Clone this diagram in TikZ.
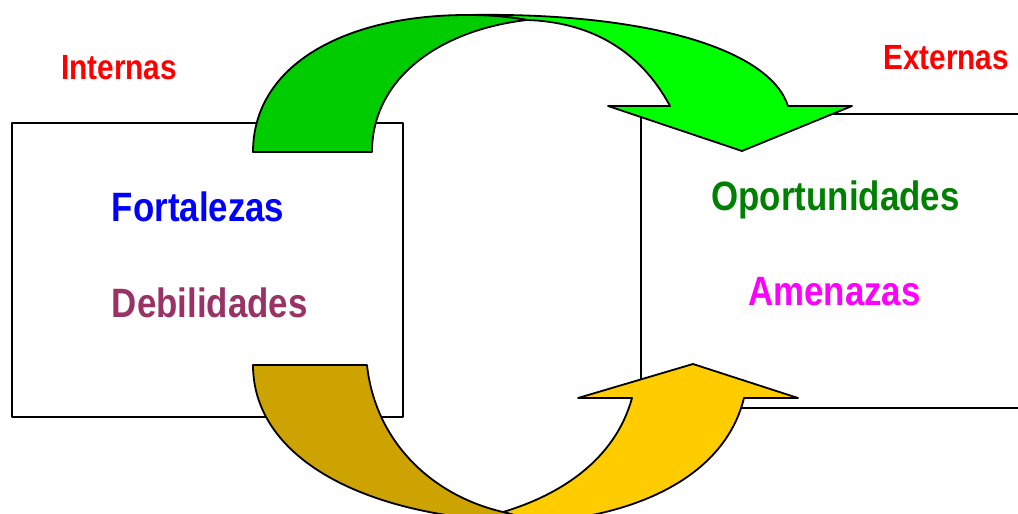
\documentclass[tikz,border=0pt]{standalone}
\usepackage{fontspec}
\newfontfamily\rotulo[FakeStretch=0.85]{Liberation Sans}
\usetikzlibrary{positioning}

\definecolor{verdeOscuro}{HTML}{00CC00}
\definecolor{verdeClaro}{HTML}{00FF00}
\definecolor{ocreOscuro}{HTML}{CCA300}
\definecolor{ocreClaro}{HTML}{FFCC00}
\definecolor{vino}{HTML}{993366}
\definecolor{verdeTexto}{HTML}{008000}
\definecolor{fucsia}{HTML}{FF00FF}

\begin{document}
\begin{tikzpicture}[x=1pt, y=-1pt, line width=1.8pt, line join=round,
        caja/.style={rectangle, draw, fill=white, inner sep=0pt, minimum height=294pt},
        titulo/.style={font=\rotulo\bfseries\fontsize{35}{40}\selectfont, text=red, inner sep=0pt, anchor=base},
        factor/.style={font=\rotulo\bfseries\fontsize{41}{46}\selectfont, inner sep=0pt}]
    \useasboundingbox (0,0) rectangle (1018,514);
    % cuadros del analisis interno y externo
    \node[caja, minimum width=391pt] (interno) at (207.5,270) {};
    \node[caja, minimum width=400pt, anchor=north west] (externo) at (640,113) {};
    % flecha superior: interno -> externo
    \filldraw[fill=verdeClaro] (467,15) .. controls (650,12) and (770,50) .. (788,106) -- (852,106) -- (742,151) -- (608,106) -- (670,106)
        .. controls (640,50) and (590,22) .. (527,20) .. controls (505,16) and (485,15) .. cycle;
    \filldraw[fill=verdeOscuro] (253,152) .. controls (253,65) and (345,15) .. (467,15) .. controls (485,15) and (505,16) .. (527,20)
        .. controls (440,30) and (372,78) .. (372,152) -- cycle;
    % flecha inferior: interno -> externo
    \filldraw[fill=ocreClaro] (540,522) .. controls (640,515) and (725,475) .. (744,398) -- (798,398) -- (693,364) -- (578,398) -- (632,398)
        .. controls (615,460) and (560,495) .. (503,512) -- cycle;
    \filldraw[fill=ocreOscuro] (253,365) -- (367,365) .. controls (375,440) and (430,495) .. (503,512) -- (540,522)
        .. controls (370,522) and (253,460) .. cycle;
    % rotulos
    \node[titulo] (internas) at (119,79) {Internas};
    \node[titulo] (externas) at (946,69) {Externas};
    \node[factor, text=blue, anchor=base west] (fortalezas) at (111,221) {Fortalezas};
    \node[factor, text=vino, anchor=base west] (debilidades) at (111,317) {Debilidades};
    \node[factor, text=verdeTexto, anchor=base] (oportunidades) at (835.5,210) {Oportunidades};
    \node[factor, text=fucsia, anchor=base] (amenazas) at (834.5,305) {Amenazas};
\end{tikzpicture}
\end{document}
